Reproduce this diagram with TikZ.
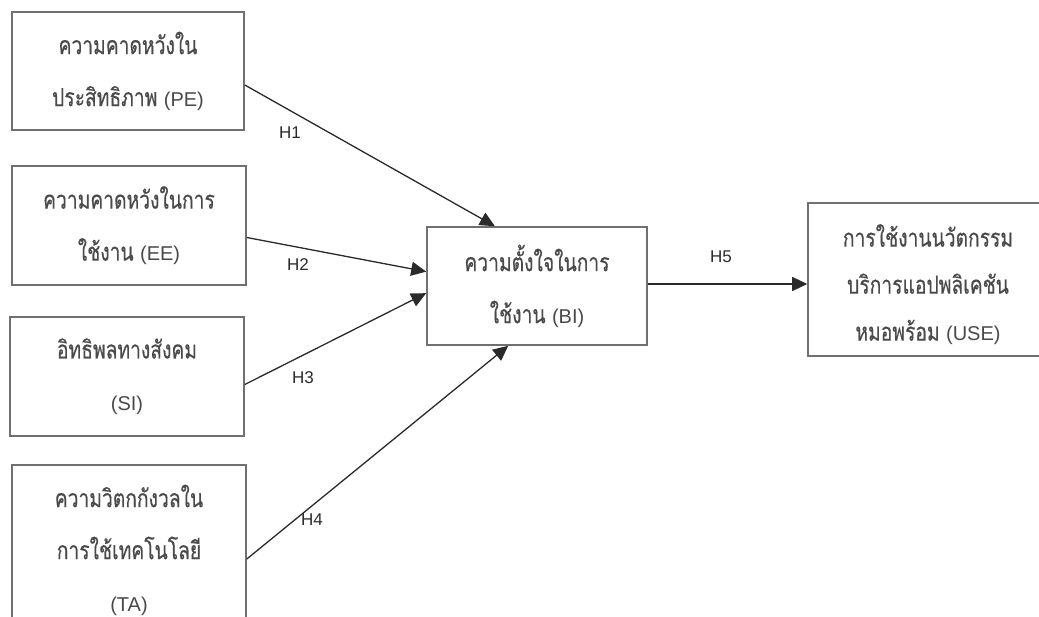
\documentclass[tikz,border=0pt]{standalone}
\usepackage{fontspec}
\setmainfont{Loma}[Script=Thai,FakeStretch=0.77,FakeBold=0.4]
\newfontfamily\lat{Liberation Sans}
\newcommand\ltx[1]{{\lat\fontsize{20}{20}\selectfont #1}}
\newcommand\dn[1]{\raisebox{-5pt}[\height][\depth]{#1}}
\usetikzlibrary{arrows.meta,calc}
\definecolor{txt}{HTML}{4A4A4A}
\definecolor{bord}{HTML}{707070}
\definecolor{arr}{HTML}{2A2A2A}
\begin{document}
\begin{tikzpicture}[x=1pt,y=-1pt,
  box/.style={draw=bord,line width=1.6pt,fill=white,text=txt,align=center,
    font=\fontsize{25}{52}\selectfont,inner sep=0pt},
  conn/.style={draw=arr,line width=1.3pt,-{Triangle[length=15pt,width=14pt]}},
  hlab/.style={text=arr,font=\lat\fontsize{17}{18}\selectfont,inner sep=0pt}]
\useasboundingbox (0,0) rectangle (1039,617);
\begin{scope}
\clip (0,0) rectangle (1039,617);
\node[box,minimum width=232pt,minimum height=118pt] (PE) at (128,71) {ความคาดหวังใน\\ประสิทธิภาพ \ltx{(PE)}};
\node[box,minimum width=234pt,minimum height=119pt] (EE) at (129,225.5) {ความคาดหวังในการ\\ใช้งาน \ltx{(EE)}};
\node[box,minimum width=234pt,minimum height=119pt] (SI) at (127,376.5) {อิทธิพลทางสังคม\\\ltx{(SI)}};
\node[box,minimum width=234pt,minimum height=170pt] (TA) at (129,550) {ความวิตกกังวลใน\\การใช้เทคโนโลยี\\\ltx{(TA)}};
\node[box,minimum width=220pt,minimum height=118pt] (BI) at (537,286) {ความตั้งใจในการ\\ใช้งาน \ltx{(BI)}};
\node[box,minimum width=240pt,minimum height=153pt,font=\fontsize{25}{47}\selectfont] (USE) at (928,279.5) {\dn{การใช้งานนวัตกรรม}\\\dn{บริการแอปพลิเคชัน}\\\dn{หมอพร้อม \ltx{(USE)}}};
\end{scope}
\coordinate (s1) at ([yshift=-14pt]PE.east);
\coordinate (s2) at ([yshift=-12pt]EE.east);
\coordinate (s3) at ([yshift=-8pt]SI.east);
\coordinate (s4) at ([yshift=-9pt]TA.east);
\coordinate (e1) at ($(BI.north west)!0.31!(BI.north east)$);
\coordinate (e2) at ($(BI.north west)!0.38!(BI.south west)$);
\coordinate (e3) at ($(BI.north west)!0.56!(BI.south west)$);
\coordinate (e4) at ($(BI.south west)!0.37!(BI.south east)$);
\draw[conn] (s1) -- (e1);
\draw[conn] (s2) -- (e2);
\draw[conn] (s3) -- (e3);
\draw[conn] (s4) -- (e4);
\draw[conn] ([yshift=2pt]BI.east) -- ([yshift=2pt]BI.east -| USE.west);
\node[hlab] (h1) at (290,133) {H1};
\node[hlab] (h2) at (298,265) {H2};
\node[hlab] (h3) at (303,378) {H3};
\node[hlab] (h4) at (312,520) {H4};
\node[hlab] (h5) at (721,257) {H5};
\end{tikzpicture}
\end{document}
